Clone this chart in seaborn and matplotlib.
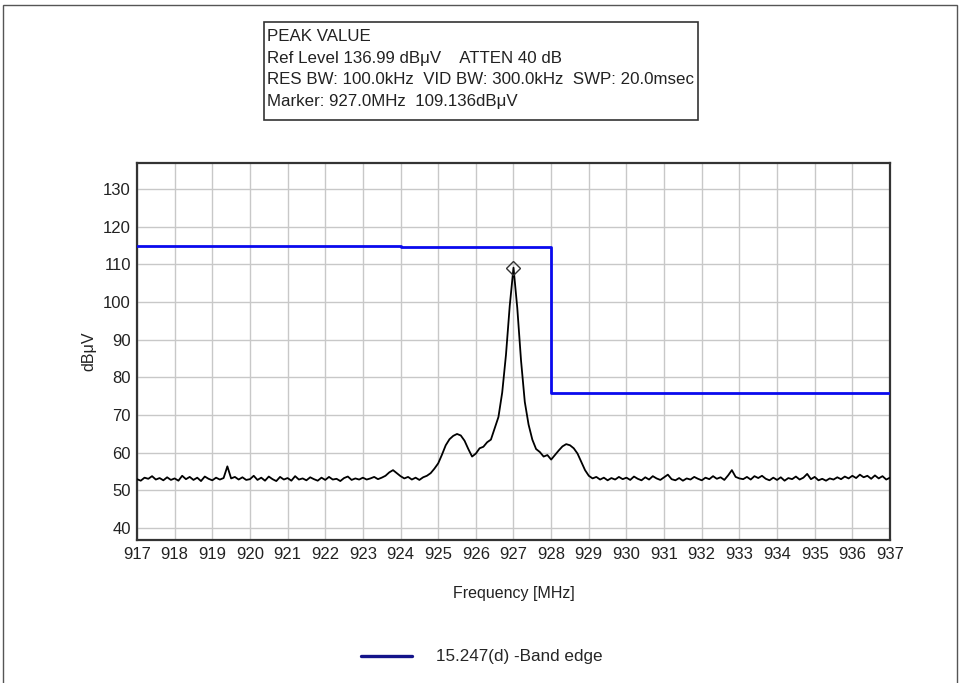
import numpy as np
import pandas as pd
import matplotlib
matplotlib.use("Agg")
import matplotlib.pyplot as plt
from matplotlib.lines import Line2D
from matplotlib.patches import Rectangle
import seaborn as sns

# ---------------- data ----------------
# measured trace, 0.1 MHz steps from 917.0 to 937.0 MHz (dBuV)
trace_level = [
    53.0, 52.6, 53.4, 53.1, 53.8, 52.9, 53.3, 52.7, 53.5, 52.8,   # 917
    53.2, 52.6, 53.9, 53.0, 53.6, 52.8, 53.4, 52.5, 53.7, 53.1,   # 918
    52.7, 53.4, 52.9, 53.3, 56.4, 53.2, 53.6, 52.9, 53.5, 52.8,   # 919
    53.0, 53.9, 52.8, 53.4, 52.6, 53.7, 53.0, 52.5, 53.6, 52.9,   # 920
    53.3, 52.6, 53.8, 52.9, 53.2, 52.7, 53.5, 53.0, 52.6, 53.4,   # 921
    52.8, 53.6, 52.9, 53.1, 52.5, 53.3, 53.7, 52.8, 53.2, 52.9,   # 922
    53.4, 52.9, 53.2, 53.6, 53.0, 53.4, 53.9, 54.8, 55.4, 54.6,   # 923
    53.8, 53.2, 53.6, 52.9, 53.4, 52.8, 53.5, 53.9, 54.6, 55.8,   # 924
    57.2, 59.5, 62.0, 63.6, 64.5, 65.0, 64.6, 63.2, 61.0, 59.0,   # 925
    59.8, 61.2, 61.6, 62.8, 63.5, 66.5, 69.5, 76.0, 86.0, 99.0,   # 926
    109.136, 98.5, 84.5, 73.5, 67.5, 63.5, 61.0, 60.2, 59.0, 59.4,  # 927
    58.2, 59.4, 60.6, 61.7, 62.3, 62.0, 61.2, 59.8, 57.6, 55.4,   # 928
    53.9, 53.2, 53.6, 52.9, 53.4, 52.7, 53.3, 52.9, 53.6, 53.0,   # 929
    53.4, 52.8, 53.7, 53.1, 52.7, 53.5, 52.9, 53.8, 53.2, 52.8,   # 930
    53.5, 54.2, 53.0, 52.7, 53.3, 52.6, 53.2, 52.9, 53.6, 53.1,   # 931
    52.7, 53.4, 53.0, 53.8, 53.1, 53.5, 52.8, 54.0, 55.4, 53.6,   # 932
    53.2, 53.0, 53.6, 52.9, 53.8, 53.3, 53.9, 53.1, 52.7, 53.4,   # 933
    52.8, 53.5, 52.6, 53.3, 53.0, 53.7, 52.9, 53.4, 54.4, 53.0,   # 934
    53.6, 52.7, 53.1, 52.6, 53.2, 52.9, 53.5, 53.0, 53.7, 53.2,   # 935
    53.9, 53.3, 54.2, 53.5, 53.9, 53.1, 54.0, 53.2, 53.8, 52.9,   # 936
    53.4,                                                         # 937
]
trace_freq = np.linspace(917.0, 937.0, len(trace_level))

# band-edge limit line
limit_freq = [917.0, 924.0, 924.0, 928.0, 928.0, 937.0]
limit_level = [115.0, 115.0, 114.7, 114.7, 76.0, 76.0]

# peak marker
marker_freq = [927.0]
marker_level = [109.136]

x_ticks = list(range(917, 938))
y_ticks = [40, 50, 60, 70, 80, 90, 100, 110, 120, 130]

info_lines = [
    "PEAK VALUE",
    "Ref Level 136.99 dB\u03bcV    ATTEN 40 dB",
    "RES BW: 100.0kHz  VID BW: 300.0kHz  SWP: 20.0msec",
    "Marker: 927.0MHz  109.136dB\u03bcV",
]
legend_label = "15.247(d) -Band edge"

# ---------------- plot ----------------
sns.set_style("white")
plt.rcParams["font.family"] = ["Liberation Sans", "DejaVu Sans"]

W, H = 960, 683
fig = plt.figure(figsize=(W / 100, H / 100), dpi=100)
ax = fig.add_axes([137 / W, 1 - 539.5 / H, (890 - 137) / W, (539.5 - 162.7) / H])

trace_df = pd.DataFrame({"freq": trace_freq, "level": trace_level})
limit_df = pd.DataFrame({"freq": limit_freq, "level": limit_level})

sns.lineplot(data=limit_df, x="freq", y="level", estimator=None, sort=False,
             color="#0a0aee", lw=2.0, ax=ax, zorder=3)
sns.lineplot(data=trace_df, x="freq", y="level", estimator=None, sort=False,
             color="black", lw=1.3, ax=ax, zorder=4)
ax.plot(marker_freq, marker_level, marker="D", ms=7.5, mfc="none", mec="#333333",
        mew=1.0, ls="none", zorder=5)

ax.set_xlim(917, 937)
ax.set_ylim(36.99, 136.99)
ax.set_xticks(x_ticks)
ax.set_xticklabels([str(t) for t in x_ticks])
ax.set_yticks(y_ticks)
ax.set_xticks(np.arange(917.5, 937, 1.0), minor=True)
ax.set_yticks(np.arange(45, 136, 10), minor=True)
ax.grid(True, which="major", color="#c8c8c8", lw=1.0)
ax.set_axisbelow(True)

ax.tick_params(axis="both", which="major", direction="inout", length=7, width=1.2,
               labelsize=12, colors="#222222", pad=1)
ax.tick_params(axis="both", which="minor", direction="inout", length=6, width=1.2,
               colors="#222222")
ax.tick_params(axis="x", which="major", pad=2)
for s in ax.spines.values():
    s.set_visible(True)
    s.set_color("#333333")
    s.set_linewidth(1.6)

ax.set_xlabel("Frequency [MHz]", fontsize=11.5, color="#222222", labelpad=17)
ax.set_ylabel("dB\u03bcV", fontsize=11.5, color="#222222", labelpad=5)

# info box
fig.patches.append(Rectangle((264 / W, 1 - 120 / H), (698 - 264) / W, (120 - 22) / H,
                             transform=fig.transFigure, fill=False,
                             edgecolor="#333333", lw=1.2))
for i, line in enumerate(info_lines):
    fig.text(267 / W, 1 - (36.5 + i * 21.7) / H, line, fontsize=12.2,
             color="#222222", ha="left", va="center")

# outer frame
fig.patches.append(Rectangle((3 / W, -0.01), (957 - 3) / W, 1.01 - 5 / H,
                             transform=fig.transFigure, fill=False,
                             edgecolor="#555555", lw=1.0))

# legend
handle = Line2D([0], [0], color="#14148a", lw=2.4)
fig.legend([handle], [legend_label], loc="center", bbox_to_anchor=(482 / W, 1 - 657 / H),
           frameon=False, fontsize=12.3, handlelength=3.0, handletextpad=1.4)

fig.savefig("out.png", dpi=100)
